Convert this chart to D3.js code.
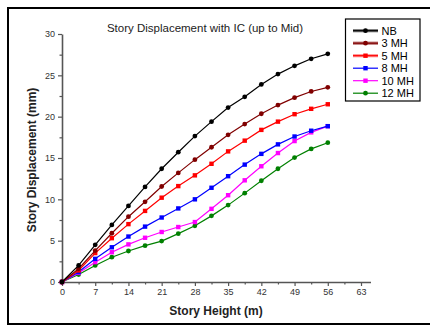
<!DOCTYPE html>
<html>
<head>
<meta charset="utf-8">
<script src="https://cdn.jsdelivr.net/npm/d3@7"></script>
<style>
  body { margin: 0; background: #fff; }
  svg { display: block; font-family: 'Liberation Sans', Arial, sans-serif; }
</style>
</head>
<body>
<div id="chart"></div>
<script>
// story heights (m), one point every 3.5 m
const heights = [0, 3.5, 7, 10.5, 14, 17.5, 21, 24.5, 28, 31.5, 35, 38.5, 42, 45.5, 49, 52.5, 56]
// displacements (mm)
const nb = [0, 2.0, 4.5, 6.9, 9.2, 11.5, 13.7, 15.7, 17.65, 19.4, 21.1, 22.4, 23.9, 25.15, 26.15, 27.0, 27.6]
const mh3 = [0, 1.6, 3.8, 5.9, 7.9, 9.7, 11.55, 13.2, 14.8, 16.3, 17.8, 19.1, 20.35, 21.4, 22.3, 23.05, 23.55]
const mh5 = [0, 1.4, 3.5, 5.3, 7.0, 8.6, 10.2, 11.6, 12.9, 14.3, 15.8, 17.1, 18.4, 19.4, 20.3, 20.95, 21.5]
const mh8 = [0, 1.2, 2.8, 4.2, 5.5, 6.7, 7.8, 8.9, 10.0, 11.4, 12.8, 14.2, 15.5, 16.65, 17.6, 18.3, 18.85]
const mh10 = [0, 1.1, 2.4, 3.6, 4.55, 5.35, 6.05, 6.65, 7.25, 8.85, 10.5, 12.3, 14.0, 15.6, 17.05, 18.1, 18.85]
const mh12 = [0, 0.9, 2.0, 3.0, 3.75, 4.4, 4.95, 5.85, 6.8, 8.0, 9.3, 10.75, 12.25, 13.7, 15.05, 16.1, 16.85]

const seriesNames = ['NB', '3 MH', '5 MH', '8 MH', '10 MH', '12 MH']
const xTicks = [0, 7, 14, 21, 28, 35, 42, 49, 56, 63]
const yTicks = [0, 5, 10, 15, 20, 25, 30]

const series = [
  { name: seriesNames[0], values: nb, color: '#000000', symbol: 'circle', halo: '#777777' },
  { name: seriesNames[1], values: mh3, color: '#800000', symbol: 'circle', halo: '#b87070' },
  { name: seriesNames[2], values: mh5, color: '#ff0000', symbol: 'square', halo: '#ff9090' },
  { name: seriesNames[3], values: mh8, color: '#0000ff', symbol: 'square', halo: null },
  { name: seriesNames[4], values: mh10, color: '#ff00ff', symbol: 'square', halo: null },
  { name: seriesNames[5], values: mh12, color: '#008000', symbol: 'circle', halo: null }
]

const width = 430
const height = 326

const svg = d3.select('#chart').append('svg')
  .attr('width', width)
  .attr('height', height)

// outer frame (right edge falls outside the picture)
svg.append('rect')
  .attr('x', 8).attr('y', 8)
  .attr('width', 440).attr('height', 316)
  .attr('fill', 'none')
  .attr('stroke', '#000')
  .attr('stroke-width', 2)

const x = d3.scaleLinear().domain([0, 65]).range([62, 370.5])
const y = d3.scaleLinear().domain([0, 30]).range([282, 34])

const axisColor = '#555'

// minor ticks first, majors on top
svg.append('g')
  .attr('transform', `translate(0, ${y(0)})`)
  .call(d3.axisBottom(x).tickValues(d3.range(3.5, 63, 7)).tickSize(2.5).tickFormat(''))
  .call(g => g.select('.domain').remove())
  .call(g => g.selectAll('line').attr('stroke', axisColor).attr('stroke-width', 1.2))

svg.append('g')
  .attr('transform', `translate(${x(0)}, 0)`)
  .call(d3.axisLeft(y).tickValues(d3.range(2.5, 30, 5)).tickSize(2.5).tickFormat(''))
  .call(g => g.select('.domain').remove())
  .call(g => g.selectAll('line').attr('stroke', axisColor).attr('stroke-width', 1.2))

const xAxis = svg.append('g')
  .attr('transform', `translate(0, ${y(0)})`)
  .call(d3.axisBottom(x).tickValues(xTicks).tickSize(4).tickSizeOuter(0).tickPadding(3))
xAxis.select('.domain').attr('stroke', axisColor).attr('stroke-width', 1.6)
xAxis.selectAll('line').attr('stroke', axisColor).attr('stroke-width', 1.2)
xAxis.selectAll('text')
  .attr('fill', '#333')
  .style('font-size', '9px')
  .style('font-family', 'Liberation Sans, Arial, sans-serif')

const yAxis = svg.append('g')
  .attr('transform', `translate(${x(0)}, 0)`)
  .call(d3.axisLeft(y).tickValues(yTicks).tickSize(4).tickSizeOuter(0).tickPadding(3))
yAxis.select('.domain').attr('stroke', axisColor).attr('stroke-width', 1.6)
yAxis.selectAll('line').attr('stroke', axisColor).attr('stroke-width', 1.2)
yAxis.selectAll('text')
  .attr('fill', '#333')
  .style('font-size', '9px')
  .style('font-family', 'Liberation Sans, Arial, sans-serif')

// titles
svg.append('text')
  .text('Story Displacement with IC (up to Mid)')
  .attr('x', 205)
  .attr('y', 32)
  .attr('text-anchor', 'middle')
  .attr('font-size', '11.5px')
  .attr('fill', '#222')

svg.append('text')
  .text('Story Height (m)')
  .attr('x', 216)
  .attr('y', 315)
  .attr('text-anchor', 'middle')
  .attr('font-size', '12px')
  .attr('font-weight', 'bold')
  .attr('fill', '#222')

svg.append('text')
  .text('Story Displacement (mm)')
  .attr('transform', 'translate(36, 160) rotate(-90)')
  .attr('text-anchor', 'middle')
  .attr('font-size', '12px')
  .attr('font-weight', 'bold')
  .attr('fill', '#222')

// data lines + markers
const line = d3.line()
  .x((d, i) => x(heights[i]))
  .y(d => y(d))

const plot = svg.append('g').attr('class', 'contents')

function drawMarker (sel, s, cx, cy) {
  if (s.symbol === 'square') {
    sel.append('rect')
      .attr('x', cx - 2.2).attr('y', cy - 2.2)
      .attr('width', 4.4).attr('height', 4.4)
      .attr('fill', s.color)
  } else {
    sel.append('circle')
      .attr('cx', cx).attr('cy', cy)
      .attr('r', 2.4)
      .attr('fill', s.color)
  }
}

series.slice().reverse().forEach(s => {
  const g = plot.append('g')
  g.append('path')
    .datum(s.values)
    .attr('d', line)
    .attr('fill', 'none')
    .attr('stroke', s.color)
    .attr('stroke-width', 1.2)
  s.values.forEach((v, i) => drawMarker(g, s, x(heights[i]), y(v)))
})

// legend
const legend = svg.append('g').attr('class', 'legend')
legend.append('rect')
  .attr('x', 345.5).attr('y', 19)
  .attr('width', 74.5).attr('height', 82)
  .attr('fill', '#fff')
  .attr('stroke', '#000')
  .attr('stroke-width', 1.2)

series.forEach((s, i) => {
  const ly = 30.7 + i * 12.5
  const item = legend.append('g')
  if (s.halo) {
    item.append('line')
      .attr('x1', 353).attr('x2', 378)
      .attr('y1', ly).attr('y2', ly)
      .attr('stroke', s.halo)
      .attr('stroke-width', 3.2)
  }
  item.append('line')
    .attr('x1', 353).attr('x2', 378)
    .attr('y1', ly).attr('y2', ly)
    .attr('stroke', s.color)
    .attr('stroke-width', 1.2)
  drawMarker(item, s, 365.5, ly)
  item.append('text')
    .text(s.name)
    .attr('x', 381.5)
    .attr('y', ly + 4)
    .attr('font-size', '11px')
    .attr('fill', '#000')
})
</script>
</body>
</html>
